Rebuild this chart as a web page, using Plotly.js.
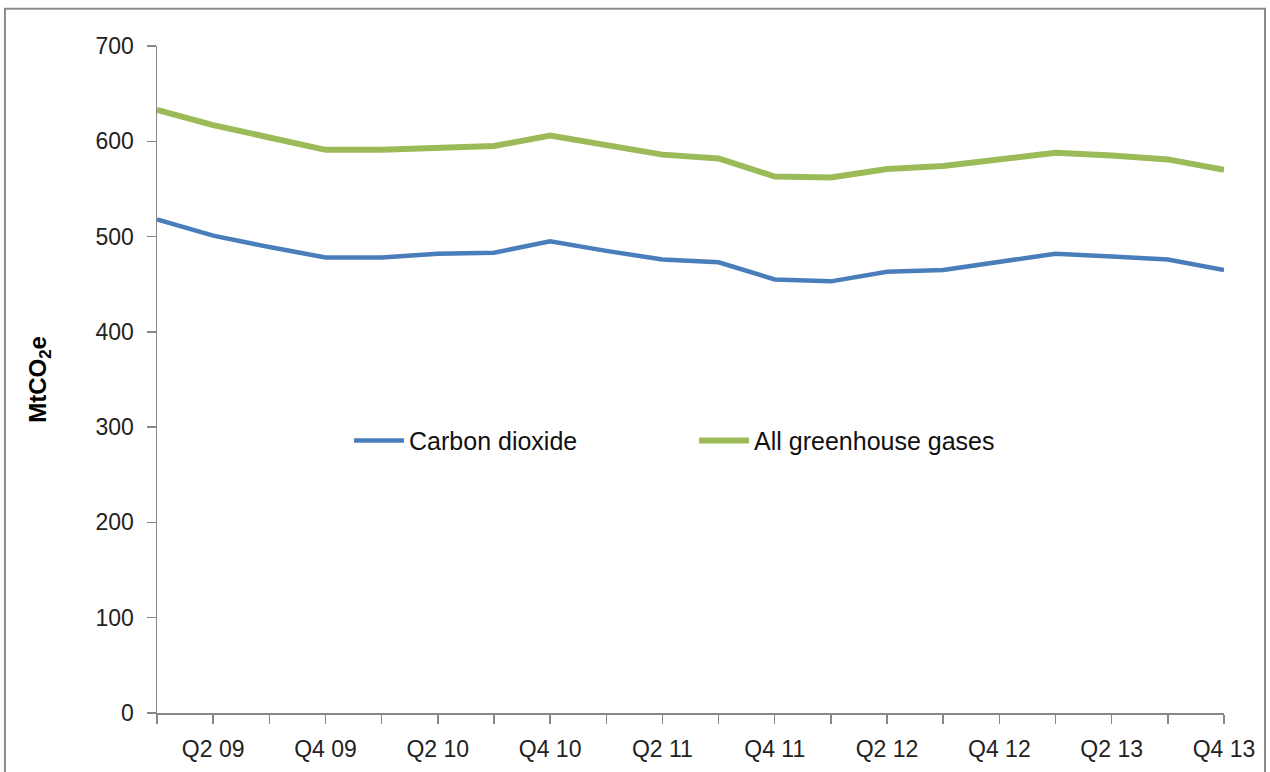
<!DOCTYPE html>
<html>
<head>
<meta charset="utf-8">
<script src="https://cdn.plot.ly/plotly-3.0.1.min.js"></script>
<style>
  html, body { margin: 0; padding: 0; background: #ffffff; }
  #chart { width: 1270px; height: 772px; }
</style>
</head>
<body>
<div id="chart"></div>
<script>
const quarters = ['Q1 09','Q2 09','Q3 09','Q4 09','Q1 10','Q2 10','Q3 10','Q4 10',
                  'Q1 11','Q2 11','Q3 11','Q4 11','Q1 12','Q2 12','Q3 12','Q4 12',
                  'Q1 13','Q2 13','Q3 13','Q4 13'];
const carbonDioxide = [518, 501, 489, 478, 478, 482, 483, 495, 485, 476,
                       473, 455, 453, 463, 465, 474, 482, 479, 476, 465];
const allGreenhouseGases = [633, 617, 604, 591, 591, 593, 595, 606, 596, 586,
                            582, 563, 562, 571, 574, 581, 588, 585, 581, 570];
const seriesNames = ['Carbon dioxide', 'All greenhouse gases'];
const yTicks = [0, 100, 200, 300, 400, 500, 600, 700];
const tickLabels = quarters.map((q, i) => (i % 2 === 1 ? q : ''));

const FONT = 'Liberation Sans, Arial, sans-serif';
const AXIS_GRAY = '#868686';

const traces = [
  {
    x: quarters, y: carbonDioxide, name: seriesNames[0],
    type: 'scatter', mode: 'lines',
    line: { color: '#4A7EBB', width: 4.5 }
  },
  {
    x: quarters, y: allGreenhouseGases, name: seriesNames[1],
    type: 'scatter', mode: 'lines',
    line: { color: '#9BBB59', width: 6 }
  }
];

const layout = {
  width: 1270, height: 772,
  paper_bgcolor: '#ffffff', plot_bgcolor: '#ffffff',
  margin: { l: 157, r: 46, t: 46, b: 59 },
  font: { family: FONT, color: '#222222' },
  showlegend: true,
  legend: {
    orientation: 'h',
    x: 0.18, xanchor: 'left',
    y: 0.408, yanchor: 'middle',
    font: { family: FONT, size: 25, color: '#111111' },
    bgcolor: 'rgba(0,0,0,0)',
    itemwidth: 50,
    entrywidth: 280
  },
  xaxis: {
    type: 'category',
    range: [0, quarters.length - 1],
    tickmode: 'array',
    tickvals: quarters,
    ticktext: tickLabels,
    ticks: 'outside', ticklen: 9, tickwidth: 1.5, tickcolor: AXIS_GRAY,
    showline: true, linecolor: AXIS_GRAY, linewidth: 1.5,
    showgrid: false, zeroline: false,
    tickfont: { family: FONT, size: 23, color: '#222222' },
    ticklabelstandoff: 6
  },
  yaxis: {
    range: [0, 700],
    tickmode: 'array',
    tickvals: yTicks,
    ticks: 'outside', ticklen: 9, tickwidth: 1.5, tickcolor: AXIS_GRAY,
    showline: true, linecolor: AXIS_GRAY, linewidth: 1.5,
    showgrid: false, zeroline: false,
    tickfont: { family: FONT, size: 23, color: '#222222' },
    ticklabelstandoff: 8,
    title: {
      text: '<b>MtCO<sub>2</sub>e</b>',
      font: { family: FONT, size: 24, color: '#000000' },
      standoff: 42
    }
  },
  shapes: [
    {
      type: 'rect', xref: 'paper', yref: 'paper',
      x0: -0.1425, x1: 1.0384, y0: -0.2, y1: 1.056,
      line: { color: '#8a8a8a', width: 2 },
      fillcolor: 'rgba(0,0,0,0)',
      layer: 'below'
    }
  ]
};

Plotly.newPlot('chart', traces, layout, { displayModeBar: false, staticPlot: true });
</script>
</body>
</html>
